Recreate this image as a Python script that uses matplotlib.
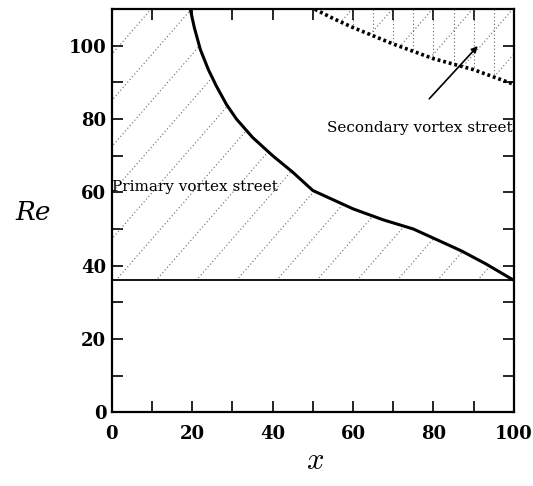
import matplotlib
matplotlib.use("Agg")
import matplotlib.pyplot as plt
import numpy as np
from matplotlib.patches import Polygon

# onset of the primary vortex street (solid curve)
x_primary = [19.5, 20.5, 22, 24, 26, 28.5, 31, 35, 40, 45, 50, 60, 67.5, 75, 87, 93, 100]
re_primary = [110, 105, 99, 93.5, 89, 84, 80, 75, 70, 65.5, 60.5, 55.5, 52.5, 50, 44, 40.5, 36]

# onset of the secondary vortex street (dotted curve)
x_secondary = [50.5, 55, 60, 70, 80, 90, 100]
re_secondary = [110, 107.5, 105, 100.5, 96.5, 93.5, 89.5]

# critical Reynolds number (horizontal line)
re_crit = 36

xticks = [0, 20, 40, 60, 80, 100]
yticks = [0, 20, 40, 60, 80, 100]
xmax, ymax = 100, 110

plt.rcParams['font.family'] = ['DejaVu Serif']
plt.rcParams['mathtext.fontset'] = 'cm'

fig = plt.figure(figsize=(5.33, 4.86), dpi=100)
ax = fig.add_axes([0.210, 0.152, 0.754, 0.829])
ax.set_xlim(0, xmax)
ax.set_ylim(0, ymax)

# shaded regions
prim_pts = [(0, re_crit)] + list(zip(x_primary[::-1], re_primary[::-1])) + [(0, ymax)]
prim_poly = Polygon(prim_pts, closed=True, facecolor='none', edgecolor='none')
ax.add_patch(prim_poly)

sec_pts = list(zip(x_secondary, re_secondary)) + [(xmax, ymax)]
sec_poly = Polygon(sec_pts, closed=True, facecolor='none', edgecolor='none')
ax.add_patch(sec_poly)

hatch_kw = dict(color='#666666', lw=0.8, linestyle=(0, (1, 2.2)))
slope = 1.26
xx = np.array([-100, 200])
for x0 in np.arange(-109, 110, 10):
    ln, = ax.plot(xx, re_crit + slope * (xx - x0), **hatch_kw)
    ln.set_clip_path(prim_poly)
    ln2, = ax.plot(xx, re_crit + slope * (xx - x0), **hatch_kw)
    ln2.set_clip_path(sec_poly)
for xv in np.arange(60, 100, 5):
    lv, = ax.plot([xv, xv], [0, ymax], **hatch_kw)
    lv.set_clip_path(sec_poly)

ax.axhline(re_crit, color='black', lw=1.3)
ax.plot(x_primary, re_primary, color='black', lw=2.2)
ax.plot(x_secondary, re_secondary, color='black', lw=2.6, linestyle=(0, (0.8, 0.8)))

ax.text(0, 61.5, 'Primary vortex street', fontsize=11, va='center', ha='left')
ax.text(99.8, 77.5, 'Secondary vortex street', fontsize=11, va='center', ha='right')
ax.annotate('', xy=(91.5, 100.5), xytext=(78.5, 85),
            arrowprops=dict(arrowstyle='-|>', color='black', lw=1.2,
                            mutation_scale=9))

ax.set_xticks(xticks)
ax.set_yticks(yticks)
ax.set_xticks(np.arange(0, 101, 10), minor=True)
ax.set_yticks(np.arange(0, 111, 10), minor=True)
ax.tick_params(which='both', direction='in', top=True, right=True,
               length=8, width=1.2)
ax.tick_params(axis='x', pad=9)
ax.tick_params(axis='y', pad=4)
for lab in ax.get_xticklabels() + ax.get_yticklabels():
    lab.set_fontweight('bold')
    lab.set_fontsize(13)
for sp in ax.spines.values():
    sp.set_linewidth(1.6)

fig.text(0.062, 0.562, 'Re', fontsize=19, style='italic', ha='center', va='center')
fig.text(0.592, 0.052, '$x$', fontsize=22, ha='center', va='center')

fig.savefig('out.png', dpi=100)
